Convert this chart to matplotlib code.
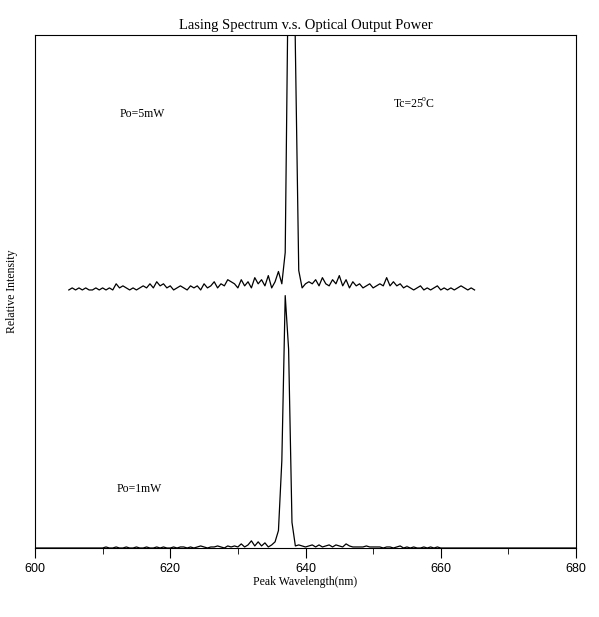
import numpy as np
import matplotlib.pyplot as plt

# upper spectrum (Po=5mW), 605..665 nm, 0.5 nm steps, noise in units of 0.004
up_x = np.arange(605, 665.01, 0.5)
up_noise = [0, 1, 0, 1, 0, 1, 0, 0, 1, 0, 1, 0, 1, 0, 3, 1, 2, 1, 0, 1,
            0, 1, 2, 1, 3, 1, 4, 2, 3, 1, 2, 0, 1, 2, 1, 0, 2, 1, 2, 0,
            3, 1, 2, 4, 1, 3, 2, 5, 4, 3, 1, 5, 2, 4, 1, 6, 3, 5, 2, 7,
            1, 4, 9, 3, 7, 2, 3, 6, 2, 1, 3, 4, 3, 5, 2, 6, 3, 2, 5, 3,
            7, 2, 5, 1, 4, 2, 3, 1, 2, 3, 1, 2, 3, 2, 6, 2, 4, 2, 3, 1,
            2, 1, 0, 1, 2, 0, 1, 0, 1, 2, 0, 1, 0, 1, 0, 1, 2, 1, 0, 1, 0]
up_peak = {637.0: 0.03, 637.5: 0.45, 638.0: 0.65, 638.5: 0.3, 639.0: 0.02}

# lower spectrum (Po=1mW), 600..680 nm, noise in units of 0.002
lo_x = np.arange(600, 680.01, 0.5)
lo_noise = [0] * 20 + [0, 1, 0, 0, 1, 0, 0, 1, 0, 0, 1, 0, 0, 1, 0, 0, 1, 0, 1, 0,
            0, 1, 0, 1, 1, 0, 1, 0, 1, 2, 1, 0, 1, 1, 2, 1, 0, 2, 1, 2,
            1, 4, 1, 3, 7, 2, 6, 2, 5, 1, 3, 6, 2, 5, 1, 4, 5, 2, 3, 2,
            1, 2, 3, 1, 3, 1, 2, 3, 1, 3, 2, 1, 4, 2, 1, 1, 1, 1, 2, 1,
            1, 1, 1, 0, 1, 1, 0, 1, 2, 0, 1, 0, 1, 0, 0, 1, 0, 1, 0, 1] + [0] * 41
lo_peak = {636.0: 0.03, 636.5: 0.16, 637.0: 0.49, 637.5: 0.38, 638.0: 0.04}

up_y = 0.503 + 0.004 * np.array(up_noise, dtype=float)
for k, v in up_peak.items():
    up_y[np.argmin(abs(up_x - k))] += v * 1.5
lo_y = 0.002 * np.array(lo_noise, dtype=float)
for k, v in lo_peak.items():
    lo_y[np.argmin(abs(lo_x - k))] += v

fig = plt.figure(figsize=(5.99, 6.17), dpi=100)
ax = fig.add_axes([35 / 599, 1 - 548 / 617, 541 / 599, 513 / 617])
ax.plot(up_x, up_y, color="black", linewidth=0.9)
ax.plot(lo_x, lo_y, color="black", linewidth=0.9)
ax.set_xlim(600, 680)
ax.set_ylim(0, 1)
ax.set_yticks([])
ax.set_xticks(np.arange(600, 681, 20))
ax.set_xticks(np.arange(610, 680, 20), minor=True)
ax.tick_params(axis="x", which="major", length=7, labelsize=9)
ax.tick_params(axis="x", which="minor", length=4)
for lab in ax.get_xticklabels():
    lab.set_fontfamily("Liberation Sans")

serif = "Liberation Serif"
ax.set_title("Lasing Spectrum v.s. Optical Output Power", fontfamily=serif, fontsize=10.5, pad=4)
ax.set_xlabel("Peak Wavelength(nm)", fontfamily=serif, fontsize=8.5, labelpad=1)
ax.set_ylabel("Relative Intensity", fontfamily=serif, fontsize=8.5, labelpad=12)
ax.text(612.5, 0.84, "Po=5mW", fontfamily=serif, fontsize=8.5)
ax.text(612, 0.11, "Po=1mW", fontfamily=serif, fontsize=8.5)
ax.text(653, 0.86, "Tc=25", fontfamily=serif, fontsize=8.5)
ax.text(657.2, 0.872, "o", fontfamily=serif, fontsize=5.5)
ax.text(657.8, 0.86, "C", fontfamily=serif, fontsize=8.5)
fig.savefig("out.png", dpi=100)
